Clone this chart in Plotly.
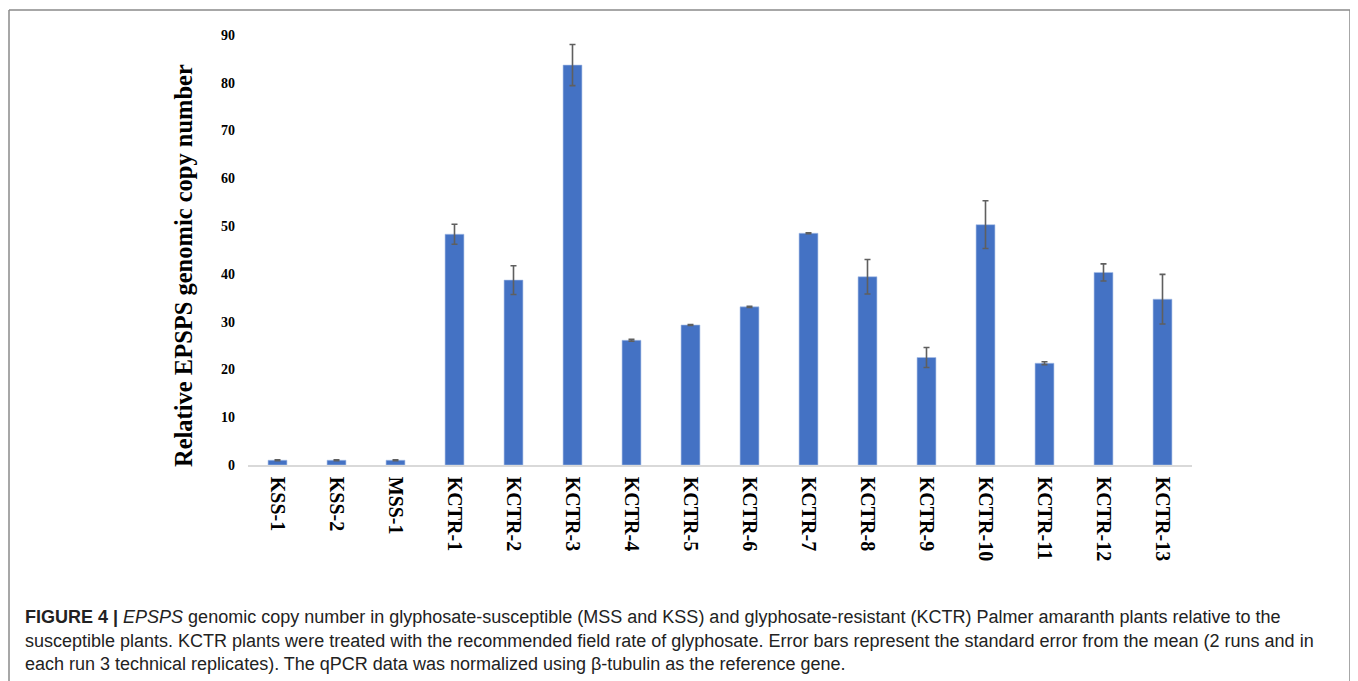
import plotly.graph_objects as go

categories = ["KSS-1", "KSS-2", "MSS-1", "KCTR-1", "KCTR-2", "KCTR-3", "KCTR-4", "KCTR-5",
              "KCTR-6", "KCTR-7", "KCTR-8", "KCTR-9", "KCTR-10", "KCTR-11", "KCTR-12", "KCTR-13"]
values = [1.0, 1.0, 1.0, 48.3, 38.7, 83.7, 26.1, 29.3, 33.1, 48.5, 39.4, 22.5, 50.3, 21.3, 40.3, 34.7]
errors = [0.1, 0.1, 0.1, 2.1, 3.0, 4.3, 0.2, 0.1, 0.1, 0.1, 3.6, 2.1, 5.0, 0.3, 1.8, 5.2]
y_ticks = [0, 10, 20, 30, 40, 50, 60, 70, 80, 90]

caption_lines = [
    "<b>FIGURE 4 |</b> <i>EPSPS</i> genomic copy number in glyphosate-susceptible (MSS and KSS) and glyphosate-resistant (KCTR) Palmer amaranth plants relative to the",
    "susceptible plants. KCTR plants were treated with the recommended field rate of glyphosate. Error bars represent the standard error from the mean (2 runs and in",
    "each run 3 technical replicates). The qPCR data was normalized using β-tubulin as the reference gene.",
]

OFF = 8  # browser body margin
W, H = 1358 - OFF, 681 - OFF
L, R, T, B = 248, 1192, 35, 465  # screen coords of plot area

def px(x):
    return (x - L) / (R - L)

def py(y):
    return (B - y) / (B - T)

fig = go.Figure()
fig.add_trace(go.Bar(
    x=categories, y=values, width=0.32,
    marker=dict(color="#4472C4", line=dict(color="#A9BFE6", width=0.6)),
    error_y=dict(type="data", array=errors, visible=True, color="#5F5F5F", thickness=1.6, width=3),
))

fig.update_layout(
    width=W, height=H,
    margin=dict(l=L - OFF, r=(W + OFF) - R, t=T - OFF, b=(H + OFF) - B),
    plot_bgcolor="white", paper_bgcolor="white",
    showlegend=False,
    xaxis=dict(
        tickangle=90,
        tickfont=dict(family="Liberation Serif", size=20, color="black", weight="bold"),
        showline=True, linecolor="#D9D9D9", linewidth=1.5,
        showgrid=False, ticks="", ticklabelstandoff=6,
    ),
    yaxis=dict(
        range=[0, 90], tickvals=y_ticks,
        tickfont=dict(family="Liberation Serif", size=14, color="black", weight="bold"),
        showline=False, showgrid=False, zeroline=False, ticks="", ticklabelstandoff=12,
    ),
)

fig.add_annotation(
    text="<b>Relative EPSPS genomic copy number</b>",
    xref="paper", yref="paper", x=px(183), y=py(266), textangle=-90,
    showarrow=False, font=dict(family="Liberation Serif", size=24.5, color="black"),
    xanchor="center", yanchor="middle",
)

for line, yy in zip(caption_lines, [617, 641, 664]):
    fig.add_annotation(
        text=line, xref="paper", yref="paper", x=px(23), y=py(yy),
        xanchor="left", yanchor="middle", showarrow=False,
        font=dict(family="Liberation Sans", size=18, color="#222222"),
    )

# frame around the figure: top, left and right edges
frame = dict(color="#8A8A8A", width=1.5)
fig.add_shape(type="line", xref="paper", yref="paper",
              x0=px(9), x1=px(1350), y0=py(10), y1=py(10), line=frame)
fig.add_shape(type="line", xref="paper", yref="paper",
              x0=px(9), x1=px(9), y0=py(10), y1=py(690), line=frame)
fig.add_shape(type="line", xref="paper", yref="paper",
              x0=px(1350), x1=px(1350), y0=py(10), y1=py(690), line=frame)

fig.write_html("out.html")
